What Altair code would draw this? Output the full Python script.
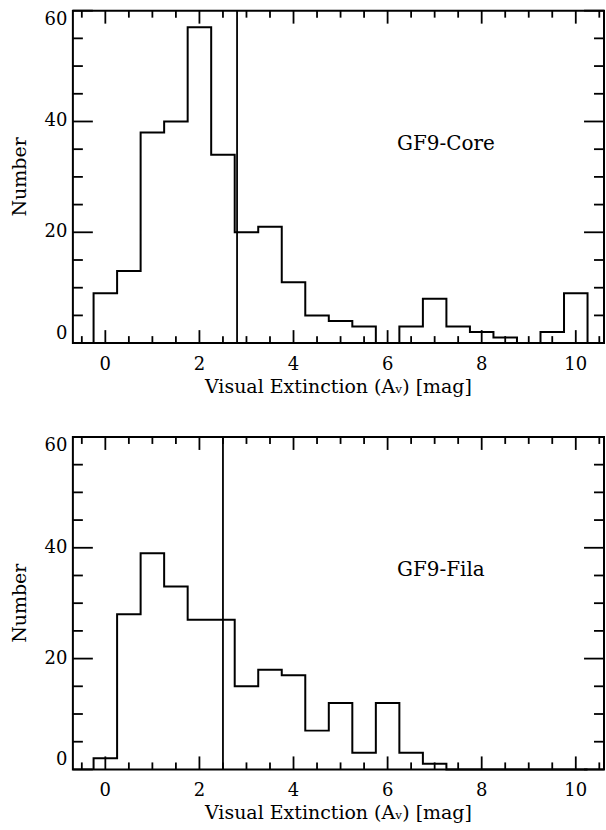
import altair as alt
import pandas as pd

# ---------------- data ----------------
av_bins = [0.0, 0.5, 1.0, 1.5, 2.0, 2.5, 3.0, 3.5, 4.0, 4.5, 5.0,
           5.5, 6.0, 6.5, 7.0, 7.5, 8.0, 8.5, 9.0, 9.5, 10.0]
bin_width = 0.5
core_counts = [9, 13, 38, 40, 57, 34, 20, 21, 11, 5, 4,
               3, 0, 3, 8, 3, 2, 1, 0, 2, 9]
fila_counts = [2, 28, 39, 33, 27, 27, 15, 18, 17, 7, 12,
               3, 12, 3, 1, 0, 0, 0, 0, 0, 0]
core_threshold = 2.8
fila_threshold = 2.5
panel_labels = ["GF9-Core", "GF9-Fila"]
label_x = 6.2
label_y = 36

x_major_ticks = [0, 2, 4, 6, 8, 10]
x_minor_ticks = [-0.5, 0.5, 1.0, 1.5, 2.5, 3.0, 3.5, 4.5, 5.0, 5.5,
                 6.5, 7.0, 7.5, 8.5, 9.0, 9.5, 10.5]
y_major_ticks = [0, 20, 40, 60]
y_minor_ticks = [5, 10, 15, 25, 30, 35, 45, 50, 55]
x_domain = [-0.69, 10.6]
y_domain = [0, 60]

x_title = "Visual Extinction (A\u1d65) [mag]"
y_title = "Number"

FONT = "DejaVu Serif"
W, H = 532, 333
X_MAJOR_LEN, X_MINOR_LEN = 13, 7
Y_MAJOR_LEN, Y_MINOR_LEN = 20, 10
TICK_W = 1.8
LABEL_SIZE, TITLE_SIZE, TEXT_SIZE = 18, 19, 20


def step_frame(counts):
    rows = [{"i": 0, "x": av_bins[0] - bin_width / 2, "y": 0}]
    for k, (b, c) in enumerate(zip(av_bins, counts)):
        rows.append({"i": k + 1, "x": b - bin_width / 2, "y": c})
    rows.append({"i": len(av_bins) + 1, "x": av_bins[-1] + bin_width / 2, "y": 0})
    return pd.DataFrame(rows)


def panel(counts, threshold, label):
    xs = alt.Scale(domain=x_domain, nice=False, zero=False)
    ys = alt.Scale(domain=y_domain, nice=False, zero=False)

    def X(f="x"):
        return alt.X(f"{f}:Q", scale=xs, axis=None)

    def Y(f="y"):
        return alt.Y(f"{f}:Q", scale=ys, axis=None)

    hist = alt.Chart(step_frame(counts)).mark_line(
        interpolate="step-after", color="black", strokeWidth=2
    ).encode(x=X(), y=Y(), order="i:Q")

    thr = pd.DataFrame({"x": [threshold], "y0": [y_domain[0]], "y1": [y_domain[1]]})
    rule = alt.Chart(thr).mark_rule(color="black", strokeWidth=1.8).encode(
        x=X(), y=Y("y0"), y2="y1:Q")

    txt = alt.Chart(pd.DataFrame({"x": [label_x], "y": [label_y], "t": [label]})).mark_text(
        align="left", baseline="middle", font=FONT, fontSize=TEXT_SIZE, color="black"
    ).encode(x=X(), y=Y(), text="t:N")

    # ---- inward ticks on all four sides ----
    def xt(values, length, side):
        base = alt.Chart(pd.DataFrame({"v": values})).mark_rule(
            color="black", strokeWidth=TICK_W)
        if side == "bottom":
            return base.encode(x=X("v"), y=alt.value(H), y2=alt.value(H - length))
        return base.encode(x=X("v"), y=alt.value(0), y2=alt.value(length))

    def yt(values, length, side):
        base = alt.Chart(pd.DataFrame({"v": values})).mark_rule(
            color="black", strokeWidth=TICK_W)
        if side == "left":
            return base.encode(y=Y("v"), x=alt.value(0), x2=alt.value(length))
        return base.encode(y=Y("v"), x=alt.value(W), x2=alt.value(W - length))

    ticks = [
        xt(x_major_ticks, X_MAJOR_LEN, "bottom"),
        xt(x_minor_ticks, X_MINOR_LEN, "bottom"),
        xt(x_major_ticks, X_MAJOR_LEN, "top"),
        xt(x_minor_ticks, X_MINOR_LEN, "top"),
        yt(y_major_ticks, Y_MAJOR_LEN, "left"),
        yt(y_minor_ticks, Y_MINOR_LEN, "left"),
        yt(y_major_ticks, Y_MAJOR_LEN, "right"),
        yt(y_minor_ticks, Y_MINOR_LEN, "right"),
    ]

    # ---- tick labels ----
    xlab = alt.Chart(pd.DataFrame({"v": x_major_ticks})).mark_text(
        align="center", baseline="top", font=FONT, fontSize=LABEL_SIZE, color="black"
    ).encode(x=X("v"), y=alt.value(H + 12.5), text=alt.Text("v:Q", format="d"))

    def ylab(values, baseline):
        return alt.Chart(pd.DataFrame({"v": values})).mark_text(
            align="right", baseline=baseline, font=FONT, fontSize=LABEL_SIZE, color="black"
        ).encode(y=Y("v"), x=alt.value(-5.5), text=alt.Text("v:Q", format="d"))

    ylabs = [
        ylab(y_major_ticks[:1], "bottom"),
        ylab(y_major_ticks[1:-1], "middle"),
        ylab(y_major_ticks[-1:], "top"),
    ]

    # ---- axis titles ----
    xtitle = alt.Chart(pd.DataFrame({"t": [x_title]})).mark_text(
        align="center", baseline="alphabetic", font=FONT, fontSize=TITLE_SIZE, color="black"
    ).encode(x=alt.value(W / 2), y=alt.value(H + 49.5), text="t:N")
    ytitle = alt.Chart(pd.DataFrame({"t": [y_title]})).mark_text(
        align="center", baseline="alphabetic", angle=270, font=FONT,
        fontSize=TITLE_SIZE, color="black"
    ).encode(x=alt.value(-47), y=alt.value(H / 2), text="t:N")

    return alt.layer(hist, rule, txt, *ticks, xlab, *ylabs, xtitle, ytitle).properties(
        width=W, height=H)


top = panel(core_counts, core_threshold, panel_labels[0])
bottom = panel(fila_counts, fila_threshold, panel_labels[1])

chart = alt.vconcat(top, bottom, spacing=94, bounds="flush").properties(
    padding={"left": 10, "top": 8, "right": 0, "bottom": 0},
    background="white",
).configure_view(stroke="black", strokeWidth=2)

chart.save("out.html", embed_options={"renderer": "svg", "actions": False})
